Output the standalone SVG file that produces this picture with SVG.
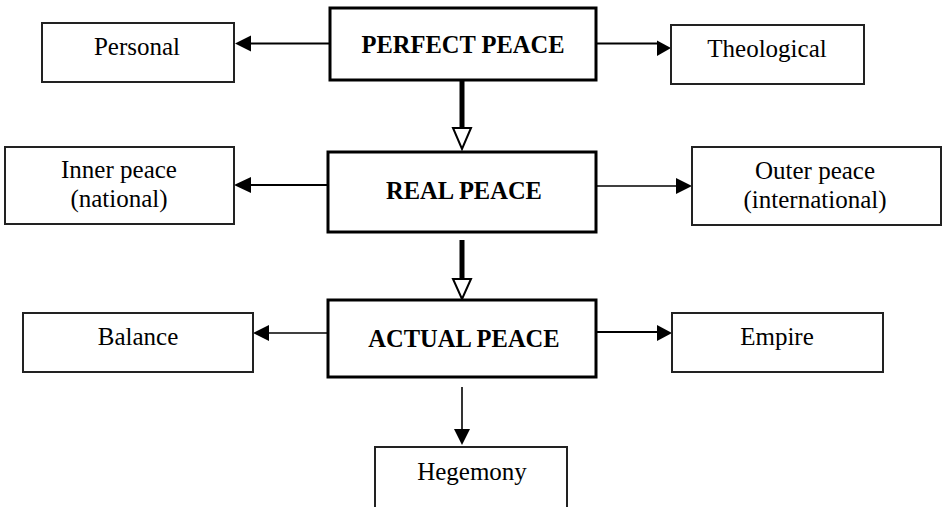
<svg xmlns="http://www.w3.org/2000/svg" width="942" height="507" viewBox="0 0 942 507">
<style>
text{font-family:"Liberation Serif","Times New Roman",serif;font-size:25px;fill:#000;text-anchor:middle}
.b{font-weight:bold;font-size:24.5px}
.main{fill:#fff;stroke:#000;stroke-width:3}
.side{fill:#fff;stroke:#222;stroke-width:2}
.ln{stroke:#000;stroke-width:2.2;fill:none}
.thin{stroke:#000;stroke-width:1.6;fill:none}
.thick{stroke:#000;stroke-width:5;fill:none}
.hd{fill:#000;stroke:none}
.open{fill:#fff;stroke:#000;stroke-width:2}
</style>
<rect width="942" height="507" fill="#fff"/>
<g id="connectors">
<line class="ln" x1="329" y1="43.5" x2="250" y2="43.5"/>
<polygon class="hd" points="235,43.5 251,35.5 251,51.5"/>
<line class="ln" x1="596" y1="43.5" x2="658" y2="43.5"/>
<polygon class="hd" points="671,48 657,40.5 657,56"/>
<line class="thick" x1="462" y1="80" x2="462" y2="128"/>
<polygon class="open" points="453,128 471,128 462,149"/>
<line class="ln" x1="328" y1="185" x2="250" y2="185"/>
<polygon class="hd" points="234,185 251,177 251,193"/>
<line class="thin" x1="596" y1="186" x2="677" y2="186"/>
<polygon class="hd" points="692,186 676,178 676,194"/>
<line class="thick" x1="462" y1="240" x2="462" y2="279"/>
<polygon class="open" points="453,279 471,279 462,299"/>
<line class="thin" x1="328" y1="333" x2="268" y2="333"/>
<polygon class="hd" points="253,333 269,325 269,341"/>
<line class="ln" x1="596" y1="332" x2="658" y2="332"/>
<polygon class="hd" points="672,333 657,325 657,341"/>
<line class="thin" x1="462" y1="387" x2="462" y2="430"/>
<polygon class="hd" points="462,445 454,429 470,429"/>
</g>
<g id="perfect-peace">
<rect class="main" x="330" y="8" width="266" height="72"/>
<text class="b" x="463" y="53">PERFECT PEACE</text>
</g>
<g id="personal">
<rect class="side" x="42" y="23" width="192" height="59"/>
<text x="137" y="55">Personal</text>
</g>
<g id="theological">
<rect class="side" x="671" y="25" width="193" height="59"/>
<text x="767" y="57">Theological</text>
</g>
<g id="real-peace">
<rect class="main" x="328" y="152" width="268" height="80"/>
<text class="b" x="464" y="199">REAL PEACE</text>
</g>
<g id="inner-peace">
<rect class="side" x="5" y="147" width="229" height="77"/>
<text x="119" y="178">Inner peace</text>
<text x="119" y="207">(national)</text>
</g>
<g id="outer-peace">
<rect class="side" x="692" y="147" width="249" height="78"/>
<text x="815" y="179">Outer peace</text>
<text x="815" y="208">(international)</text>
</g>
<g id="actual-peace">
<rect class="main" x="328" y="300" width="268" height="77"/>
<text class="b" x="464" y="347">ACTUAL PEACE</text>
</g>
<g id="balance">
<rect class="side" x="23" y="313" width="230" height="59"/>
<text x="138" y="345">Balance</text>
</g>
<g id="empire">
<rect class="side" x="672" y="313" width="211" height="59"/>
<text x="777" y="345">Empire</text>
</g>
<g id="hegemony">
<rect class="side" x="375" y="447" width="192" height="64" stroke-width="1.6"/>
<text x="472" y="480">Hegemony</text>
</g>
</svg>
